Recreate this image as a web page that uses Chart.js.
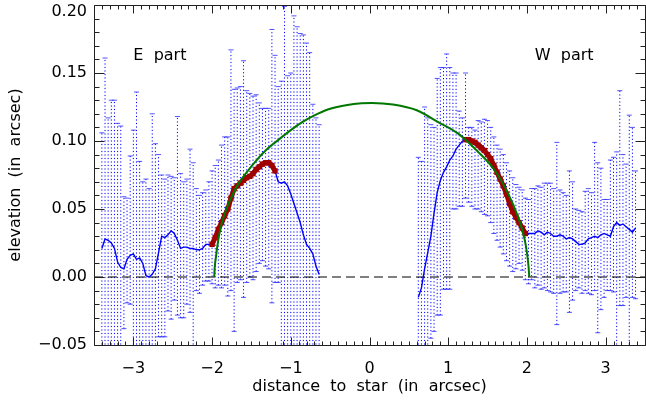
<!DOCTYPE html>
<html>
<head>
<meta charset="utf-8">
<script src="https://cdn.jsdelivr.net/npm/chart.js@4.4.1/dist/chart.umd.min.js"></script>
<style>
  html, body { margin: 0; padding: 0; background: #fff; overflow: hidden; }
  #caja { width: 650px; height: 401px; }
</style>
</head>
<body>
<div id="caja"><canvas id="grafico-Perfil" width="650" height="401"></canvas></div>
<script>
// Parte E (este): posiciones, elevación y barras de error (extremo inferior / superior)
const xE = [-3.40,-3.36,-3.32,-3.28,-3.24,-3.20,-3.16,-3.12,-3.08,-3.04,
            -3.00,-2.96,-2.92,-2.88,-2.84,-2.80,-2.76,-2.72,-2.68,-2.64,
            -2.60,-2.56,-2.52,-2.48,-2.44,-2.40,-2.36,-2.32,-2.28,-2.24,
            -2.20,-2.16,-2.12,-2.08,-2.04,-2.00,-1.96,-1.92,-1.88,-1.84,
            -1.80,-1.76,-1.72,-1.68,-1.64,-1.60,-1.56,-1.52,-1.48,-1.44,
            -1.40,-1.36,-1.32,-1.28,-1.24,-1.20,-1.16,-1.12,-1.08,-1.04,
            -1.00,-0.96,-0.92,-0.88,-0.84,-0.80,-0.76,-0.72,-0.68,-0.64];
const yE = [0.021,0.028,0.027,0.025,0.021,0.011,0.007,0.006,0.013,0.016,
            0.017,0.013,0.014,0.010,0.001,0.000,0.002,0.006,0.018,0.030,
            0.029,0.031,0.034,0.032,0.027,0.021,0.022,0.022,0.021,0.021,
            0.020,0.020,0.021,0.024,0.024,0.024,0.029,0.035,0.040,0.045,
            0.050,0.058,0.065,0.067,0.069,0.071,0.073,0.074,0.076,0.079,
            0.081,0.083,0.084,0.084,0.082,0.078,0.070,0.069,0.070,0.067,
            0.061,0.054,0.047,0.040,0.031,0.024,0.021,0.017,0.008,0.002];
const altoE = [0.106,0.161,0.117,0.130,0.130,0.113,0.111,0.059,0.058,0.089,
               0.108,0.136,0.085,0.070,0.072,0.065,0.120,0.098,0.090,0.075,
               0.072,0.075,0.074,0.073,0.118,0.076,0.070,0.072,0.094,0.084,
               0.065,0.060,0.062,0.064,0.070,0.078,0.082,0.086,0.097,0.103,
               0.103,0.167,0.138,0.139,0.140,0.159,0.137,0.135,0.133,0.134,
               0.128,0.124,0.124,0.124,0.182,0.163,0.140,0.144,0.199,0.148,
               0.150,0.192,0.184,0.179,0.178,0.172,0.165,0.127,0.117,0.112];
const bajoE = [-0.06,-0.06,-0.06,-0.06,-0.06,-0.06,-0.06,-0.038,-0.019,-0.020,
               -0.06,-0.06,-0.06,-0.06,-0.06,-0.06,-0.06,-0.06,-0.044,-0.044,
               -0.044,-0.025,-0.031,-0.017,-0.028,-0.030,-0.030,-0.020,-0.026,-0.06,
               -0.010,-0.012,-0.006,-0.003,-0.003,-0.005,-0.008,-0.006,-0.008,-0.006,
               -0.014,-0.010,-0.040,-0.004,-0.002,-0.015,-0.004,0.000,-0.002,0.004,
               0.010,0.012,0.008,0.006,-0.019,-0.004,-0.004,-0.06,-0.06,-0.06,
               -0.06,-0.06,-0.06,-0.06,-0.06,-0.06,-0.06,-0.06,-0.06,-0.06];

// Parte W (oeste)
const xW = [0.62,0.66,0.70,0.74,0.78,0.82,0.86,0.90,0.94,0.98,
            1.02,1.06,1.10,1.14,1.18,1.22,1.26,1.30,1.34,1.38,
            1.42,1.46,1.50,1.54,1.58,1.62,1.66,1.70,1.74,1.78,
            1.82,1.86,1.90,1.94,1.98,2.02,2.06,2.10,2.14,2.18,
            2.22,2.26,2.30,2.34,2.38,2.42,2.46,2.50,2.54,2.58,
            2.62,2.66,2.70,2.74,2.78,2.82,2.86,2.90,2.94,2.98,
            3.02,3.06,3.10,3.14,3.18,3.22,3.26,3.30,3.34,3.38];
const yW = [-0.015,-0.008,0.006,0.018,0.030,0.047,0.062,0.071,0.077,0.081,
            0.086,0.089,0.094,0.097,0.100,0.101,0.101,0.100,0.099,0.097,
            0.095,0.093,0.090,0.087,0.082,0.077,0.072,0.067,0.061,0.054,
            0.048,0.044,0.040,0.036,0.032,0.032,0.032,0.032,0.034,0.033,
            0.031,0.033,0.032,0.030,0.030,0.031,0.030,0.028,0.029,0.028,
            0.026,0.024,0.024,0.025,0.028,0.029,0.030,0.029,0.031,0.032,
            0.031,0.030,0.037,0.040,0.038,0.039,0.037,0.035,0.033,0.036];
const altoW = [0.088,0.085,0.125,0.117,0.112,0.110,0.146,0.154,0.154,0.164,
               0.154,0.150,0.150,0.122,0.117,0.150,0.110,0.110,0.108,0.115,
               0.114,0.116,0.115,0.110,0.103,0.097,0.094,0.090,0.084,0.078,
               0.073,0.068,0.066,0.064,0.058,0.057,0.065,0.065,0.067,0.066,
               0.069,0.069,0.069,0.065,0.099,0.064,0.062,0.060,0.078,0.070,
               0.050,0.049,0.048,0.063,0.065,0.062,0.099,0.084,0.080,0.057,
               0.057,0.086,0.088,0.092,0.137,0.090,0.083,0.119,0.110,0.078];
const bajoW = [-0.06,-0.06,-0.06,-0.06,-0.045,-0.040,-0.028,-0.028,-0.009,-0.009,
               -0.009,0.050,0.050,0.052,0.052,0.058,0.055,0.052,0.050,0.050,
               0.048,0.046,0.045,0.040,0.032,0.027,0.022,0.017,0.012,0.008,
               0.004,0.006,0.010,0.005,-0.002,-0.005,-0.002,-0.008,-0.006,-0.009,
               -0.008,-0.010,-0.011,-0.012,-0.035,-0.012,-0.011,-0.011,-0.026,-0.017,
               -0.010,-0.008,-0.012,-0.010,-0.012,-0.013,-0.010,-0.041,-0.024,-0.015,
               -0.010,-0.010,-0.011,-0.06,-0.021,-0.021,-0.015,-0.06,-0.015,-0.016];

// Tramos ajustados (en rojo)
const rojoE = [-2.01, -1.19];
const rojoW = [1.20, 1.99];

// Curva ajustada (verde)
const xVerde = [-1.973,-1.965,-1.95,-1.93,-1.89,-1.83,-1.74,-1.66,-1.49,-1.32,-1.15,-1.00,-0.85,-0.70,-0.52,
                -0.30,-0.10,0.03,0.30,0.60,0.873,1.127,1.38,1.59,1.76,1.886,1.97,2.00,2.02,2.03];
const yVerde = [0.000,0.008,0.015,0.024,0.0365,0.048,0.0605,0.069,0.082,0.093,0.1012,0.108,0.114,0.1188,0.1233,
                0.1263,0.1278,0.128,0.1268,0.1226,0.1139,0.1054,0.092,0.0785,0.0615,0.0444,0.028,0.018,0.008,0.000];

// Línea de cero
const xCero = [-3.5, 3.5];
const yCero = [0, 0];

// Marcas de los ejes
const ticksX = [-3, -2, -1, 0, 1, 2, 3];
const ticksY = [-0.05, 0.00, 0.05, 0.10, 0.15, 0.20];

document.addEventListener("DOMContentLoaded", () => {
  Chart.defaults.font.family = "'DejaVu Sans', sans-serif";
  Chart.defaults.font.size = 16;
  Chart.defaults.color = "#000";

  const menos = (s) => s.replace("-", "\u2212");

  function puntos(xs, ys) {
    return xs.map((x, i) => ({ x: x, y: ys[i] }));
  }
  function tramo(xs, ys, r) {
    return puntos(xs, ys).filter(p => p.x >= r[0] && p.x <= r[1]);
  }
  // cada barra: abajo, arriba, hueco
  function barras(xs, bajo, alto) {
    const pts = [];
    xs.forEach((x, i) => {
      pts.push({ x: x, y: bajo[i] }, { x: x, y: alto[i] }, { x: x, y: null });
    });
    return pts;
  }

  const errorBase = {
    borderColor: "rgb(0,0,255)",
    borderWidth: 1,
    borderDash: [1.2, 2.3],
    pointStyle: "line",
    pointRadius: 2.5,
    pointBorderColor: "rgba(40,40,255,0.8)",
    pointBorderWidth: 1,
    spanGaps: false,
    order: 5
  };

  const rojoBase = {
    borderColor: "#a00000",
    borderWidth: 5,
    pointStyle: "rect",
    pointRadius: 3.8,
    pointBackgroundColor: "#a00000",
    pointBorderWidth: 0,
    order: 1
  };

  const marco = {
    id: "marco",
    afterDatasetsDraw(chart) {
      const { ctx, chartArea: a, scales: { x, y } } = chart;
      ctx.save();
      ctx.strokeStyle = "#222";
      ctx.lineWidth = 1;
      ctx.beginPath();
      const l = Math.round(a.left) + 0.5, r = Math.round(a.right) + 0.5;
      const t = Math.round(a.top) + 0.5, b = Math.round(a.bottom) + 0.5;
      ctx.moveTo(l, t); ctx.lineTo(r, t); ctx.lineTo(r, b); ctx.lineTo(l, b); ctx.closePath();
      for (let i = -35; i <= 35; i++) {
        const px = Math.round(x.getPixelForValue(i / 10)) + 0.5;
        const largo = i % 10 === 0 ? 8 : 4;
        ctx.moveTo(px, b); ctx.lineTo(px, b - largo);
        ctx.moveTo(px, t); ctx.lineTo(px, t + largo);
      }
      for (let j = -5; j <= 20; j++) {
        const py = Math.round(y.getPixelForValue(j / 100)) + 0.5;
        const largo = j % 5 === 0 ? 10 : 5;
        ctx.moveTo(l, py); ctx.lineTo(l + largo, py);
        ctx.moveTo(r, py); ctx.lineTo(r - largo, py);
      }
      ctx.stroke();

      ctx.fillStyle = "#000";
      ctx.font = "16px 'DejaVu Sans'";
      ctx.textAlign = "right";
      ctx.textBaseline = "middle";
      ticksY.forEach(v => {
        const py = Math.max(y.getPixelForValue(v), a.top + 7);
        ctx.fillText(menos(v.toFixed(2)), a.left - 7, py);
      });

      ctx.textAlign = "left";
      ctx.textBaseline = "alphabetic";
      ctx.fillText("E  part", x.getPixelForValue(-3.0), y.getPixelForValue(0.1596));
      ctx.fillText("W  part", x.getPixelForValue(2.10), y.getPixelForValue(0.1596));
      ctx.restore();
    }
  };

  const llamar = document.getElementById("grafico-Perfil");
  new Chart(llamar.getContext("2d"), {
    type: "line",
    data: {
      datasets: [
        {
          data: puntos(xVerde, yVerde),
          borderColor: "#007800",
          borderWidth: 2,
          pointRadius: 0,
          cubicInterpolationMode: "monotone",
          order: 0
        },
        Object.assign({ data: tramo(xE, yE, rojoE) }, rojoBase),
        Object.assign({ data: tramo(xW, yW, rojoW) }, rojoBase),
        {
          data: puntos(xE, yE),
          borderColor: "rgb(0,0,255)",
          borderWidth: 1.4,
          pointRadius: 0,
          order: 2
        },
        {
          data: puntos(xW, yW),
          borderColor: "rgb(0,0,255)",
          borderWidth: 1.4,
          pointRadius: 0,
          order: 2
        },
        {
          data: puntos(xCero, yCero),
          borderColor: "#000",
          borderWidth: 1,
          borderDash: [9, 5],
          pointRadius: 0,
          order: 3
        },
        Object.assign({ data: barras(xE, bajoE, altoE) }, errorBase),
        Object.assign({ data: barras(xW, bajoW, altoW) }, errorBase)
      ]
    },
    options: {
      responsive: false,
      animation: false,
      layout: { padding: { top: 5, right: 2, left: 0, bottom: 0 } },
      plugins: {
        legend: { display: false },
        tooltip: { enabled: false }
      },
      scales: {
        x: {
          type: "linear",
          min: -3.5,
          max: 3.5,
          grid: { display: false, drawTicks: false },
          border: { display: false },
          afterBuildTicks: (s) => { s.ticks = ticksX.map(v => ({ value: v })); },
          afterFit: (s) => { s.height = 56; s.paddingLeft = 0; s.paddingRight = 0; },
          ticks: {
            padding: 14,
            maxRotation: 0,
            autoSkip: false,
            callback: (v) => menos(String(v))
          },
          title: {
            display: true,
            text: "distance  to  star  (in  arcsec)",
            padding: { top: 0, bottom: 5 }
          }
        },
        y: {
          type: "linear",
          min: -0.05,
          max: 0.20,
          grid: { display: false, drawTicks: false },
          border: { display: false },
          ticks: { display: false },
          afterFit: (s) => { s.width = 94; s.paddingTop = 0; s.paddingBottom = 0; },
          title: {
            display: true,
            text: "elevation  (in  arcsec)",
            padding: { top: 6, bottom: 0 }
          }
        }
      }
    },
    plugins: [marco]
  });
});
</script>
</body>
</html>
